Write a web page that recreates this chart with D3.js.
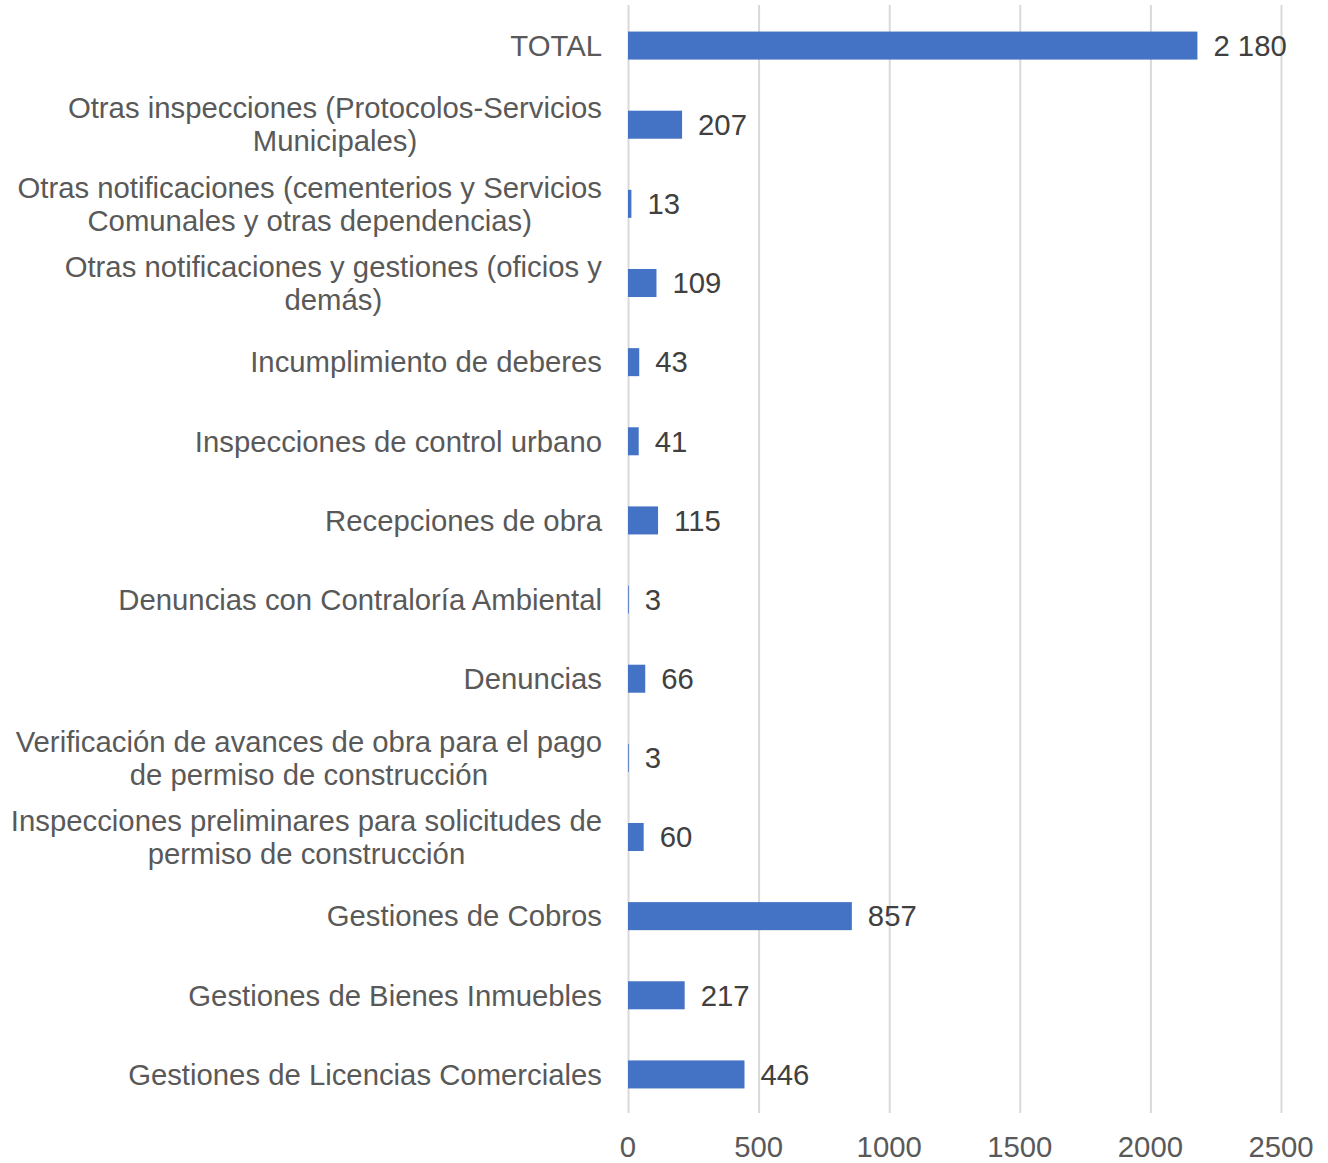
<!DOCTYPE html>
<html>
<head>
<meta charset="utf-8">
<script src="https://cdn.jsdelivr.net/npm/d3@7"></script>
<style>
  body { margin: 0; background: #fff; }
  text { font-family: "Liberation Sans", Arial, sans-serif; }
</style>
</head>
<body>
<div id="chart"></div>
<script>
var categories = [
  ["TOTAL"],
  ["Otras inspecciones (Protocolos-Servicios", "Municipales)"],
  ["Otras notificaciones (cementerios y Servicios", "Comunales y otras dependencias)"],
  ["Otras notificaciones y gestiones (oficios y", "demás)"],
  ["Incumplimiento de deberes"],
  ["Inspecciones de control urbano"],
  ["Recepciones de obra"],
  ["Denuncias con Contraloría Ambiental"],
  ["Denuncias"],
  ["Verificación de avances de obra para el pago", "de permiso de construcción"],
  ["Inspecciones preliminares para solicitudes de", "permiso de construcción"],
  ["Gestiones de Cobros"],
  ["Gestiones de Bienes Inmuebles"],
  ["Gestiones de Licencias Comerciales"]
];
var values = [2180, 207, 13, 109, 43, 41, 115, 3, 66, 3, 60, 857, 217, 446];
var ticks = [0, 500, 1000, 1500, 2000, 2500];

var width = 1328,
    height = 1163;

var svg = d3.select("#chart")
    .append("svg")
    .attr("width", width)
    .attr("height", height);

var x = d3.scaleLinear().domain([0, 2500]).range([628, 1281]);
var y = d3.scaleBand()
    .domain(d3.range(values.length))
    .range([6, 1114])
    .paddingInner(0.646)
    .paddingOuter(0.323);

// gridlines
svg.selectAll(".grid")
    .data(ticks)
    .enter().append("line")
    .attr("x1", function(d){ return x(d) + 0.5; })
    .attr("x2", function(d){ return x(d) + 0.5; })
    .attr("y1", 5)
    .attr("y2", 1113)
    .attr("stroke", "#d9d9d9")
    .attr("stroke-width", 2);

// x axis labels
svg.selectAll(".tick-label")
    .data(ticks)
    .enter().append("text")
    .attr("x", function(d){ return x(d); })
    .attr("y", 1157)
    .attr("text-anchor", "middle")
    .attr("font-size", 29.3)
    .attr("fill", "#595959")
    .text(function(d){ return d; });

// bars
svg.selectAll(".bar")
    .data(values)
    .enter().append("rect")
    .attr("x", x(0))
    .attr("y", function(d, i){ return y(i); })
    .attr("width", function(d){ return x(d) - x(0); })
    .attr("height", y.bandwidth())
    .attr("fill", "#4472c4");

// value labels
var fmt = function(v){ return d3.format(",")(v).replace(/,/g, " "); };
svg.selectAll(".value")
    .data(values)
    .enter().append("text")
    .attr("x", function(d){ return x(d) + 16; })
    .attr("y", function(d, i){ return y(i) + y.bandwidth() / 2; })
    .attr("dy", "0.35em")
    .attr("font-size", 29.3)
    .attr("fill", "#404040")
    .text(fmt);

// category labels
var labels = svg.selectAll(".cat")
    .data(categories)
    .enter().append("text")
    .attr("class", "cat")
    .attr("font-size", 29.3)
    .attr("fill", "#595959");

labels.each(function(lines, i){
    var t = d3.select(this);
    var cy = y(i) + y.bandwidth() / 2;
    var lh = 33;
    lines.forEach(function(line, j){
        t.append("tspan")
            .attr("y", cy + (j - (lines.length - 1) / 2) * lh)
            .attr("dy", "0.35em")
            .text(line);
    });
    // center multi-line blocks, block right edge at 602
    var maxW = 0;
    t.selectAll("tspan").each(function(){
        maxW = Math.max(maxW, this.getComputedTextLength());
    });
    t.attr("text-anchor", "middle")
        .selectAll("tspan").attr("x", 602 - maxW / 2);
});
</script>
</body>
</html>
